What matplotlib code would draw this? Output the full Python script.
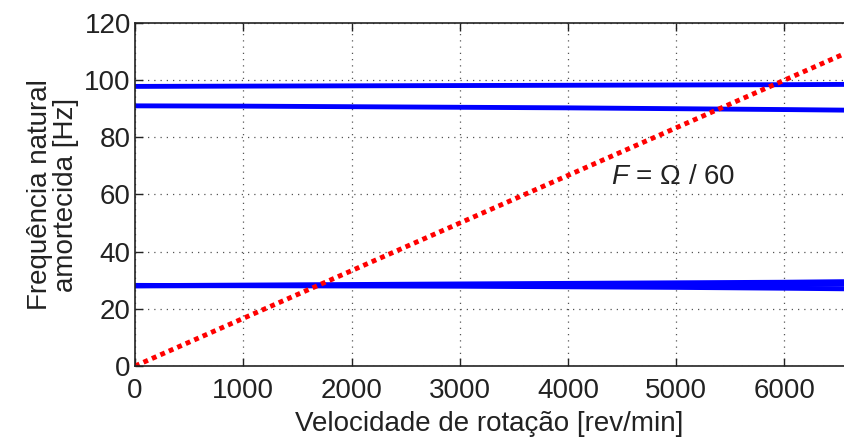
import matplotlib
matplotlib.use("Agg")
import matplotlib.pyplot as plt
import numpy as np

rpm = [0, 1000, 2000, 3000, 4000, 5000, 6000, 6550]
mode1 = [28.0, 28.1, 28.1, 28.2, 28.3, 28.4, 28.5, 28.6]
mode2 = [28.1, 28.3, 28.5, 28.7, 28.9, 29.1, 29.3, 29.5]
mode3 = [28.2, 28.1, 28.0, 27.9, 27.7, 27.5, 27.2, 27.0]
mode4 = [91.0, 90.9, 90.7, 90.5, 90.3, 90.0, 89.7, 89.5]
mode5 = [97.8, 97.9, 98.0, 98.1, 98.2, 98.3, 98.4, 98.5]
line_rpm = [0, 6550]
line_f = [0, 6550 / 60]

xticks = [0, 1000, 2000, 3000, 4000, 5000, 6000]
yticks = [0, 20, 40, 60, 80, 100, 120]

plt.rcParams['font.family'] = ['Liberation Sans', 'DejaVu Sans']
plt.rcParams['mathtext.fontset'] = 'custom'
plt.rcParams['mathtext.it'] = 'Liberation Sans:italic'
plt.rcParams['mathtext.rm'] = 'Liberation Sans'
fig = plt.figure(figsize=(8.44, 4.37), dpi=100)
ax = fig.add_axes([0.16, 0.1625, 0.84, 0.785])

for m in [mode1, mode2, mode3, mode4, mode5]:
    ax.plot(rpm, m, color='#0000ff', lw=3.5, solid_capstyle='butt')
ax.plot(line_rpm, line_f, color='#ff0000', lw=3.5, linestyle=(0, (1.0, 0.9)))

ax.set_xlim(0, 6550)
ax.set_ylim(0, 120)
ax.set_xticks(xticks)
ax.set_yticks(yticks)
ax.tick_params(direction='in', labelsize=20, length=6, width=1, top=True, right=False,
               colors='#222222', labelcolor='#222222', pad=3)
ax.tick_params(axis='x', pad=9)
ax.grid(True, linestyle=(0, (1, 4)), color='#555555', lw=0.9)
ax.spines['right'].set_visible(False)
for s in ['left', 'bottom', 'top']:
    ax.spines[s].set_linewidth(1.2)
    ax.spines[s].set_color('#222222')

ax.set_xlabel('Velocidade de rotação [rev/min]', fontsize=20, labelpad=5, color='#222222')
ax.set_ylabel('Frequência natural\namortecida [Hz]', fontsize=20, labelpad=4,
              linespacing=1.0, color='#222222')
ax.text(4400, 66, r'$F$' + ' = Ω / 60', fontsize=20, va='center', ha='left', color='#222222')

fig.savefig('out.png', dpi=100)
